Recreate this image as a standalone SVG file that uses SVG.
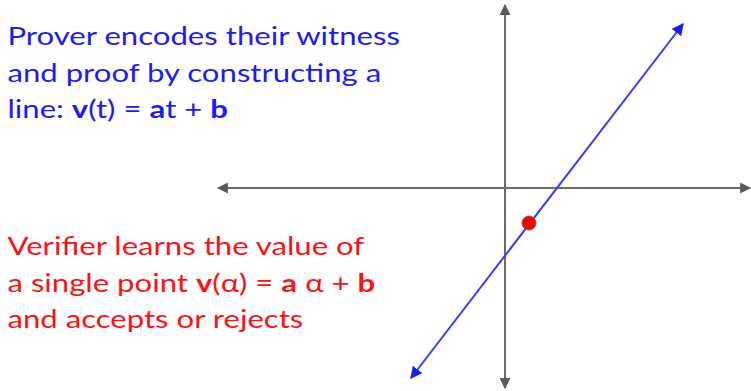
<svg xmlns="http://www.w3.org/2000/svg" width="751" height="391" viewBox="0 0 751 391">
<style>
.t{font-family:Lato,"Open Sans","Liberation Sans",sans-serif;font-size:25px}
.blue{fill:#1a1aff}
.red{fill:#ff1010}
.b{font-weight:bold}
.axis{stroke:#6b6b6b;stroke-width:2;fill:none}
.ln{stroke:#3a3aff;stroke-width:2;fill:none}
</style>
<defs>
<marker id="ag" viewBox="0 0 10 10" refX="9" refY="5" markerWidth="5.5" markerHeight="5.5" orient="auto-start-reverse"><path d="M0,0 L10,5 L0,10 z" fill="#5a5a5a"/></marker>
<marker id="ab" viewBox="0 0 10 10" refX="9" refY="5" markerWidth="6" markerHeight="6" orient="auto-start-reverse"><path d="M0,0 L10,5 L0,10 z" fill="#1a1aff"/></marker>
</defs>
<g id="connectors">
<line class="axis" x1="505" y1="5" x2="505" y2="388" marker-start="url(#ag)" marker-end="url(#ag)"/>
<line class="axis" x1="218" y1="188" x2="750" y2="188" marker-start="url(#ag)" marker-end="url(#ag)"/>
<line class="ln" x1="411" y1="378" x2="683" y2="24" marker-start="url(#ab)" marker-end="url(#ab)"/>
</g>
<g id="point"><circle cx="529" cy="223" r="7" fill="#f00" stroke="#666" stroke-width="1"/></g>
<g id="prover" transform="scale(1.245,1)">
<text class="t blue" x="6" y="45">Prover encodes their witness</text>
<text class="t blue" x="6" y="82">and proof by constructing a</text>
<text class="t blue" x="6" y="118">line: <tspan class="b">v</tspan>(t) = <tspan class="b">a</tspan>t + <tspan class="b">b</tspan></text>
</g>
<g id="verifier" transform="scale(1.245,1)">
<text class="t red" x="6" y="255">Verifier learns the value of</text>
<text class="t red" x="6" y="292">a single point <tspan class="b">v</tspan>(α) = <tspan class="b">a</tspan> α + <tspan class="b">b</tspan></text>
<text class="t red" x="6" y="328">and accepts or rejects</text>
</g>
</svg>
